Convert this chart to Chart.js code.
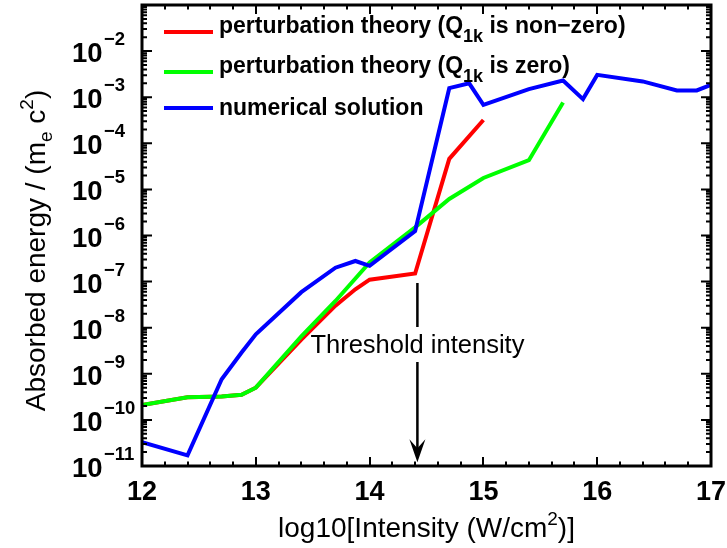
<!DOCTYPE html>
<html><head><meta charset="utf-8">
<script src="https://cdn.jsdelivr.net/npm/chart.js@4.4.1/dist/chart.umd.min.js"></script>
<style>html,body{margin:0;padding:0;background:#fff}#wrap{width:727px;height:548px;position:relative}</style>
</head><body><div id="wrap"><canvas id="c" width="727" height="548"></canvas></div>
<script>
// ---- data (log10 intensity vs absorbed energy) ----
const xNumerical = [12, 12.4, 12.7, 12.875, 13, 13.4, 13.7, 13.875, 14, 14.4, 14.7, 14.875, 15, 15.4, 15.7, 15.875, 16, 16.4, 16.7, 16.875, 17];
const yNumerical = [3.3e-11, 1.7e-11, 7.6e-10, 2.9e-9, 7.2e-9, 5.9e-8, 2.0e-7, 2.8e-7, 2.2e-7, 1.24e-6, 1.57e-3, 2.0e-3, 6.8e-4, 1.5e-3, 2.3e-3, 9.1e-4, 3.05e-3, 2.2e-3, 1.4e-3, 1.4e-3, 1.85e-3];
const xPertNonZero = [12, 12.4, 12.7, 12.875, 13, 13.4, 13.7, 13.875, 14, 14.4, 14.7, 15];
const yPertNonZero = [2.1e-10, 3.1e-10, 3.2e-10, 3.5e-10, 5.0e-10, 5.5e-9, 3.0e-8, 6.8e-8, 1.1e-7, 1.5e-7, 4.6e-5, 3.2e-4];
const xPertZero = [12, 12.4, 12.7, 12.875, 13, 13.4, 13.7, 14, 14.4, 14.7, 15, 15.4, 15.7];
const yPertZero = [2.1e-10, 3.1e-10, 3.2e-10, 3.5e-10, 5.0e-10, 6.5e-9, 3.8e-8, 2.6e-7, 1.5e-6, 6.2e-6, 1.77e-5, 4.3e-5, 7.7e-4];
const xTickValues = [12, 13, 14, 15, 16, 17];
const yTickExponents = [-11, -10, -9, -8, -7, -6, -5, -4, -3, -2];
const seriesNames = ['perturbation theory (Q', 'perturbation theory (Q', 'numerical solution'];
const seriesSubs = ['1k', '1k', ''];
const seriesTails = [' is non\u2212zero)', ' is zero)', ''];
// annotation anchor (data coordinates)
const thresholdX = 14.42;
const arrowTopY = 9.3e-8, gapTopY = 1.03e-8, gapBottomY = 1.8e-9, arrowTipY = 1.2e-11, labelY = 2.8e-9;

const FONT = '"Liberation Sans", Arial, Helvetica, sans-serif';
const COLORS = ['#ff0000', '#00ff00', '#0000ff'];

function pts(xs, ys) { return xs.map((x, i) => ({x: x, y: ys[i]})); }

function rich(ctx, segs, x, y, align) {
  let w = 0;
  segs.forEach(s => { ctx.font = s.font; s.w = ctx.measureText(s.t).width; w += s.w; });
  let cx = align === 'center' ? x - w / 2 : (align === 'right' ? x - w : x);
  ctx.textAlign = 'left';
  segs.forEach(s => { ctx.font = s.font; ctx.fillText(s.t, cx, y + (s.dy || 0)); cx += s.w; });
}

const decor = {
  id: 'decor',
  afterDraw(chart) {
    const ctx = chart.ctx, a = chart.chartArea, xs = chart.scales.x, ys = chart.scales.y;
    ctx.save();
    ctx.fillStyle = '#000'; ctx.strokeStyle = '#000';
    // ticks
    ctx.lineWidth = 2;
    ctx.beginPath();
    for (let i = 0; i <= 25; i++) {
      const v = 12 + i * 0.2, px = Math.round(xs.getPixelForValue(v));
      const len = (i % 5 === 0) ? 9 : 4.5;
      ctx.moveTo(px, a.bottom); ctx.lineTo(px, a.bottom - len);
      ctx.moveTo(px, a.top); ctx.lineTo(px, a.top + len);
    }
    for (let e = -11; e <= -1; e++) {
      for (let m = 1; m <= 9; m++) {
        if (e === -1 && m > 1) break;
        const py = ys.getPixelForValue(m * Math.pow(10, e));
        const len = m === 1 ? 10 : 5;
        ctx.moveTo(a.left, py); ctx.lineTo(a.left + len, py);
        ctx.moveTo(a.right, py); ctx.lineTo(a.right - len, py);
      }
    }
    ctx.stroke();
    // frame
    ctx.lineWidth = 3;
    ctx.strokeRect(a.left, a.top, a.right - a.left, a.bottom - a.top);
    // x tick labels
    ctx.textBaseline = 'alphabetic';
    ctx.font = 'bold 27px ' + FONT;
    ctx.textAlign = 'center';
    xTickValues.forEach(v => ctx.fillText(String(v), xs.getPixelForValue(v), a.bottom + 34));
    // y tick labels
    yTickExponents.forEach(e => {
      const py = ys.getPixelForValue(Math.pow(10, e));
      ctx.textAlign = 'left';
      ctx.font = 'bold 27.5px ' + FONT;
      ctx.fillText('10', 72, py + 11);
      ctx.font = 'bold 18.5px ' + FONT;
      ctx.fillText('\u2212' + Math.abs(e), 104, py - 6);
    });
    // x axis title
    rich(ctx, [
      {t: 'log10[Intensity (W/cm', font: '28px ' + FONT},
      {t: '2', font: '19px ' + FONT, dy: -12},
      {t: ')]', font: '28px ' + FONT}
    ], (a.left + a.right) / 2, 537, 'center');
    // y axis title
    ctx.save();
    ctx.translate(45, (a.top + a.bottom) / 2 + 15);
    ctx.rotate(-Math.PI / 2);
    rich(ctx, [
      {t: 'Absorbed energy / (m', font: '28px ' + FONT},
      {t: 'e', font: '19px ' + FONT, dy: 7},
      {t: ' c', font: '28px ' + FONT},
      {t: '2', font: '19px ' + FONT, dy: -12},
      {t: ')', font: '28px ' + FONT}
    ], 0, 0, 'center');
    ctx.restore();
    // legend
    const legY = [32, 72, 108], legBase = [33, 73, 115];
    for (let i = 0; i < 3; i++) {
      ctx.strokeStyle = COLORS[i]; ctx.lineWidth = 4;
      ctx.beginPath(); ctx.moveTo(164, legY[i]); ctx.lineTo(213, legY[i]); ctx.stroke();
      ctx.fillStyle = '#000';
      const segs = [{t: seriesNames[i], font: 'bold 23px ' + FONT}];
      if (seriesSubs[i]) segs.push({t: seriesSubs[i], font: 'bold 18px ' + FONT, dy: 9});
      if (seriesTails[i]) segs.push({t: seriesTails[i], font: 'bold 23px ' + FONT});
      rich(ctx, segs, 219, legBase[i], 'left');
    }
    // threshold annotation
    const ax = xs.getPixelForValue(thresholdX);
    const tip = ys.getPixelForValue(arrowTipY);
    ctx.strokeStyle = '#000'; ctx.fillStyle = '#000'; ctx.lineWidth = 2.5;
    ctx.beginPath();
    ctx.moveTo(ax, ys.getPixelForValue(arrowTopY)); ctx.lineTo(ax, ys.getPixelForValue(gapTopY));
    ctx.moveTo(ax, ys.getPixelForValue(gapBottomY)); ctx.lineTo(ax, tip - 12);
    ctx.stroke();
    ctx.beginPath();
    ctx.moveTo(ax, tip); ctx.lineTo(ax - 8, tip - 23); ctx.lineTo(ax, tip - 14); ctx.lineTo(ax + 8, tip - 23);
    ctx.closePath(); ctx.fill();
    ctx.font = '25.5px ' + FONT; ctx.textAlign = 'center';
    ctx.fillText('Threshold intensity', ax, ys.getPixelForValue(labelY));
    ctx.restore();
  }
};

new Chart(document.getElementById('c'), {
  type: 'line',
  data: {
    datasets: [
      {label: 'perturbation theory (Q1k is non-zero)', data: pts(xPertNonZero, yPertNonZero), borderColor: COLORS[0], order: 2},
      {label: 'perturbation theory (Q1k is zero)', data: pts(xPertZero, yPertZero), borderColor: COLORS[1], order: 1},
      {label: 'numerical solution', data: pts(xNumerical, yNumerical), borderColor: COLORS[2], order: 0}
    ].map(d => Object.assign(d, {borderWidth: 4, pointRadius: 0, tension: 0, fill: false, borderJoinStyle: 'miter', backgroundColor: d.borderColor}))
  },
  options: {
    responsive: false, animation: false, devicePixelRatio: 1,
    layout: {padding: {left: 142, right: 16, top: 5, bottom: 82}},
    plugins: {legend: {display: false}, tooltip: {enabled: false}},
    scales: {
      x: {type: 'linear', min: 12, max: 17, display: false},
      y: {type: 'logarithmic', min: 1e-11, max: 1e-1, display: false}
    }
  },
  plugins: [decor]
});
</script>
</body></html>
